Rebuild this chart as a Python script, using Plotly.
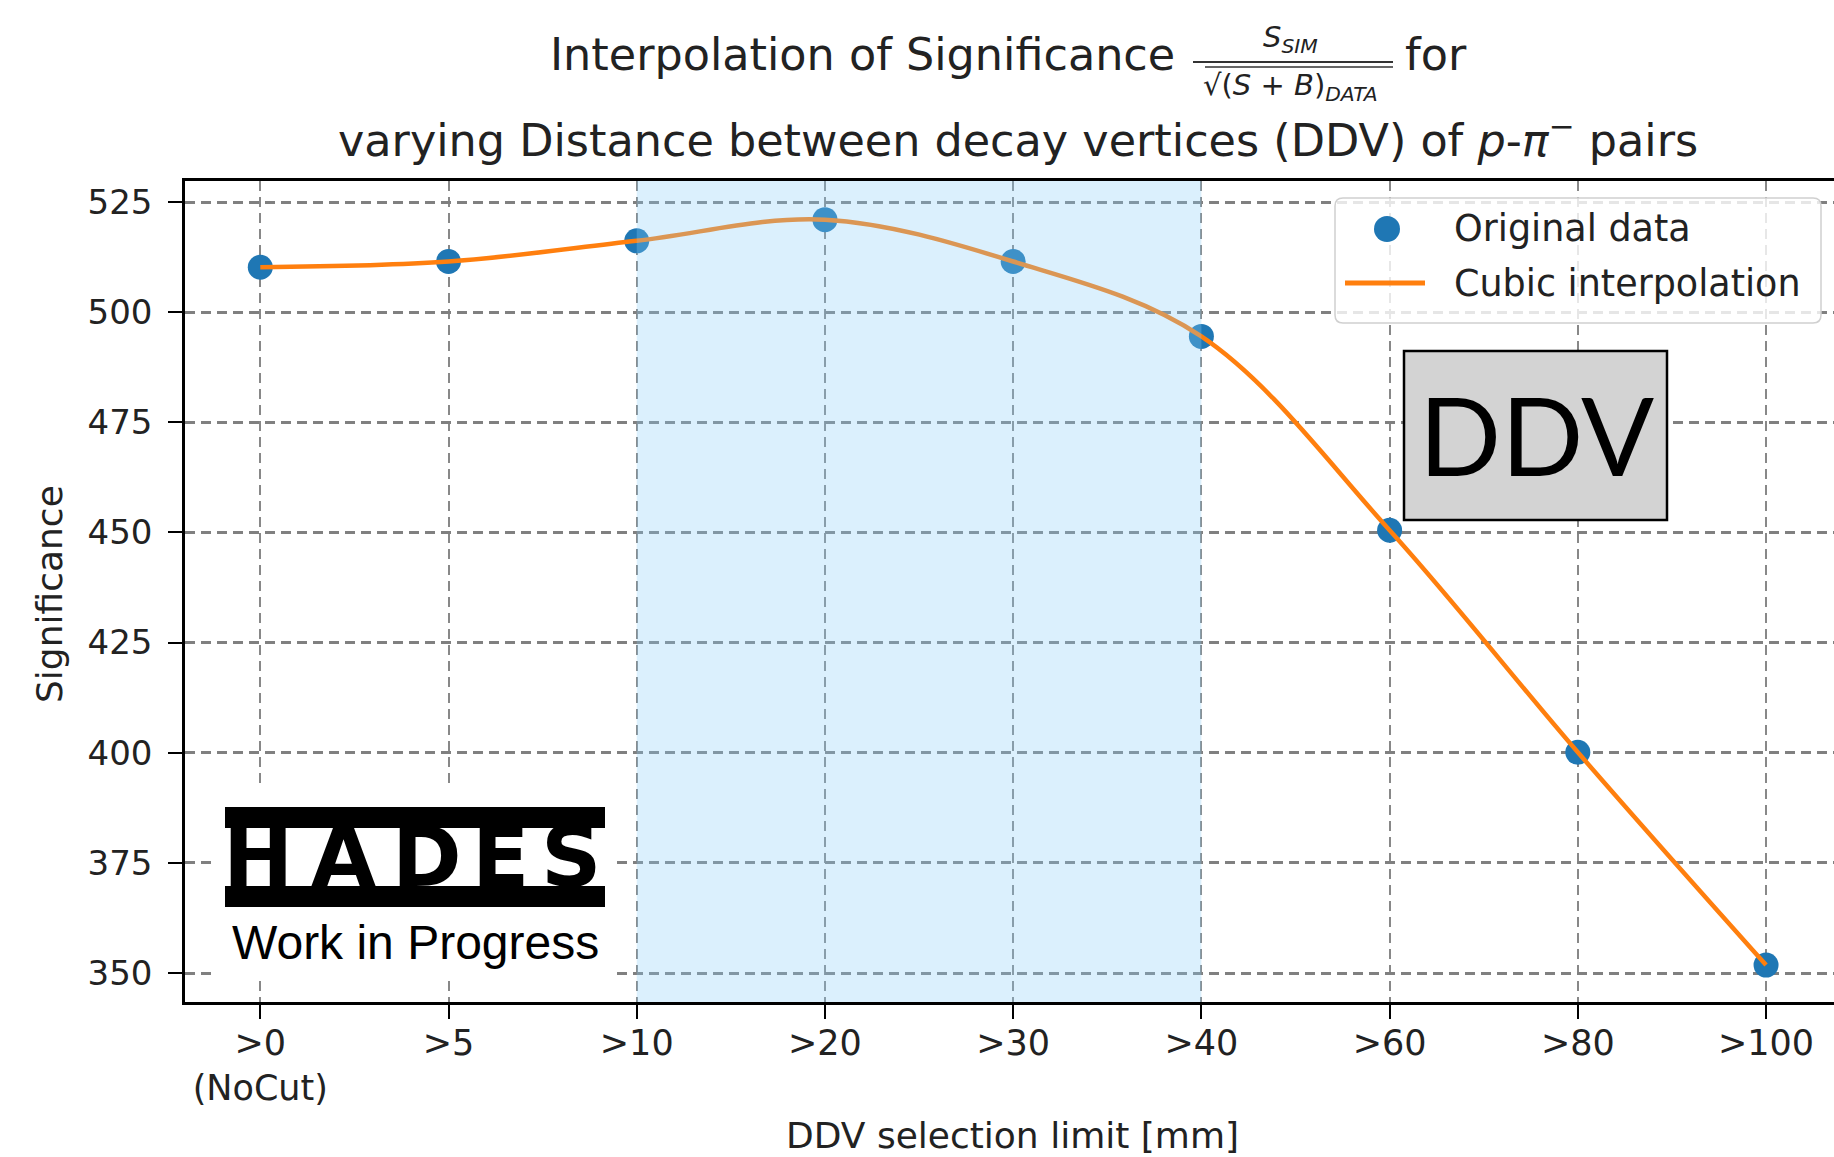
import plotly.graph_objects as go

# ---------------- data ----------------
categories = [">0<br>(NoCut)", ">5", ">10", ">20", ">30", ">40", ">60", ">80", ">100"]
significance = [510.2, 511.5, 516.2, 521.0, 511.5, 494.5, 450.5, 400.1, 351.8]
y_ticks = [350, 375, 400, 425, 450, 475, 500, 525]
highlight_from, highlight_to = ">10", ">40"
series_names = ["Original data", "Cubic interpolation"]

# ---------------- geometry helpers ----------------
W, H = 1834, 1157
L, R, T, B = 185, 0, 181, 155
PW, PH = W - L - R, H - T - B


def px(x):
    return (x - L) / PW


def py(y):
    return (H - B - y) / PH


BLUE = "#1f77b4"
ORANGE = "#ff7f0e"
TXT = "#222222"
FONT = "DejaVu Sans"

xs = list(range(len(categories)))

fig = go.Figure()
fig.add_trace(go.Scatter(x=xs, y=significance, mode="markers", name=series_names[0],
                         marker=dict(color=BLUE, size=25, line=dict(width=0))))
fig.add_trace(go.Scatter(x=xs, y=significance, mode="lines", name=series_names[1],
                         line=dict(color=ORANGE, width=4.5, shape="spline", smoothing=1.0)))

fig.update_xaxes(range=[-0.4, 8.361], tickmode="array", tickvals=xs, ticktext=categories,
                 showline=True, linecolor="black", linewidth=2.5, mirror=True,
                 ticks="outside", ticklen=14, tickwidth=2, tickcolor="black",
                 tickfont=dict(family=FONT, size=35, color=TXT), zeroline=False,
                 ticklabelstandoff=-6,
                 showgrid=True, gridcolor="#888888", gridwidth=2, griddash="10px,6px")
fig.update_yaxes(range=[343.42, 529.77], tickmode="array", tickvals=y_ticks,
                 showline=True, linecolor="black", linewidth=2.5, mirror=False,
                 ticks="outside", ticklen=14, tickwidth=2, tickcolor="black",
                 tickfont=dict(family=FONT, size=34, color=TXT), zeroline=False,
                 ticklabelstandoff=9,
                 showgrid=True, gridcolor="#808080", gridwidth=2.5, griddash="10px,6px")

shapes = []
# highlighted region (drawn on top with transparency, like axvspan)
shapes.append(dict(type="rect", xref="x", yref="paper",
                   x0=categories.index(highlight_from), x1=categories.index(highlight_to),
                   y0=0, y1=1, fillcolor="rgba(135,206,250,0.3)", line=dict(width=0), layer="above"))

# legend box with rounded corners
lx0, lx1, ly0, ly1, r = 1335, 1821, 198, 323, 8
path = (f"M {px(lx0 + r)} {py(ly0)} L {px(lx1 - r)} {py(ly0)} Q {px(lx1)} {py(ly0)} {px(lx1)} {py(ly0 + r)} "
        f"L {px(lx1)} {py(ly1 - r)} Q {px(lx1)} {py(ly1)} {px(lx1 - r)} {py(ly1)} "
        f"L {px(lx0 + r)} {py(ly1)} Q {px(lx0)} {py(ly1)} {px(lx0)} {py(ly1 - r)} "
        f"L {px(lx0)} {py(ly0 + r)} Q {px(lx0)} {py(ly0)} {px(lx0 + r)} {py(ly0)} Z")
shapes.append(dict(type="path", xref="paper", yref="paper", path=path,
                   fillcolor="rgba(255,255,255,0.8)", line=dict(color="#d0d0d0", width=1.5), layer="above"))
mr = 13
shapes.append(dict(type="circle", xref="paper", yref="paper",
                   x0=px(1387 - mr), x1=px(1387 + mr), y0=py(229 + mr), y1=py(229 - mr),
                   fillcolor=BLUE, line=dict(width=0), layer="above"))
shapes.append(dict(type="line", xref="paper", yref="paper",
                   x0=px(1345), x1=px(1425), y0=py(283), y1=py(283),
                   line=dict(color=ORANGE, width=5), layer="above"))

# DDV box
shapes.append(dict(type="rect", xref="paper", yref="paper",
                   x0=px(1404), x1=px(1667), y0=py(520), y1=py(351),
                   fillcolor="#d3d3d3", line=dict(color="black", width=2.5), layer="above"))

# HADES logo background and bars
shapes.append(dict(type="rect", xref="paper", yref="paper",
                   x0=px(215), x1=px(615), y0=py(977), y1=py(787),
                   fillcolor="white", line=dict(width=0), layer="above"))
shapes.append(dict(type="rect", xref="paper", yref="paper",
                   x0=px(225), x1=px(605), y0=py(828), y1=py(807),
                   fillcolor="black", line=dict(width=0), layer="above"))
shapes.append(dict(type="rect", xref="paper", yref="paper",
                   x0=px(225), x1=px(605), y0=py(907), y1=py(886),
                   fillcolor="black", line=dict(width=0), layer="above"))

# title fraction bars (fraction line + sqrt overline)
shapes.append(dict(type="line", xref="paper", yref="paper",
                   x0=px(1193), x1=px(1393), y0=py(62), y1=py(62),
                   line=dict(color="#333333", width=2)))
shapes.append(dict(type="line", xref="paper", yref="paper",
                   x0=px(1205), x1=px(1393), y0=py(67), y1=py(67),
                   line=dict(color="#333333", width=1.5)))

annotations = []


def ann(text, x, y, size, xanchor="center", yanchor="middle", family=FONT, color=TXT, angle=0):
    annotations.append(dict(text=text, x=px(x), y=py(y), xref="paper", yref="paper",
                            xanchor=xanchor, yanchor=yanchor, showarrow=False, textangle=angle,
                            font=dict(family=family, size=size, color=color)))


# titles
ann("Interpolation of Significance", 1177, 55, 44.5, xanchor="right")
ann("<i>S</i><sub><i>SIM</i></sub>", 1290, 39, 29)
ann("√(<i>S</i> + <i>B</i>)<sub><i>DATA</i></sub>", 1290, 87, 29)
ann("for", 1403, 55, 44.5, xanchor="left")
ann("varying Distance between decay vertices (DDV) of <i>p</i>-<i>π</i><sup>−</sup> pairs", 1018, 137, 44.5)

# axis titles
ann("DDV selection limit [mm]", 1012, 1135, 36)
ann("Significance", 49, 594, 36, angle=-90)

# legend texts
ann(series_names[0], 1452, 228, 36.5, xanchor="left")
ann(series_names[1], 1452, 283, 36.5, xanchor="left")

# DDV label
ann("DDV", 1536, 434, 108, family="Lato", color="black")

# HADES logo letters
for letter, cx in zip("HADES", [258, 343, 427, 500, 571]):
    ann(f"<b>{letter}</b>", cx, 857, 84, family=FONT, color="black")
ann("Work in Progress", 415, 942, 48, family="Liberation Sans", color="black")

fig.update_layout(width=W, height=H, margin=dict(l=L, r=R, t=T, b=B, pad=0),
                  plot_bgcolor="white", paper_bgcolor="white", showlegend=False,
                  shapes=shapes, annotations=annotations,
                  font=dict(family=FONT, color=TXT))

fig.write_html("out.html")
